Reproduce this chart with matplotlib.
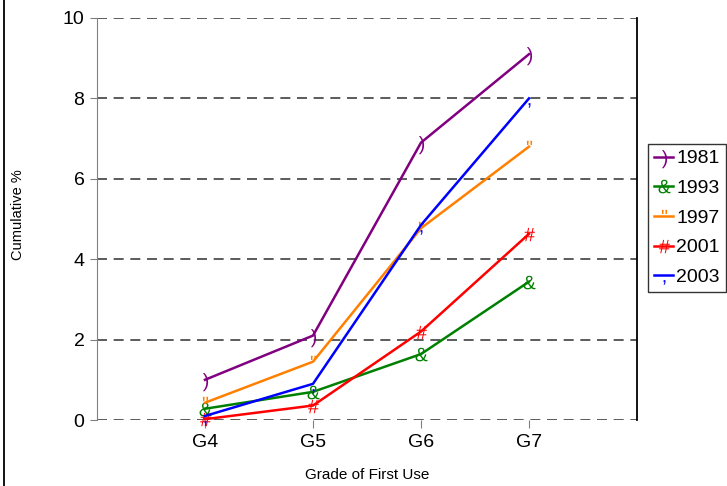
import matplotlib
matplotlib.use("Agg")
import matplotlib.pyplot as plt
from matplotlib.lines import Line2D
from matplotlib.textpath import TextPath
from matplotlib.font_manager import FontProperties
from matplotlib.transforms import Affine2D

plt.rcParams['font.family'] = ['Liberation Sans', 'DejaVu Sans']

grades = ['G4', 'G5', 'G6', 'G7']
years = ['1981', '1993', '1997', '2001', '2003']
v1981 = [1.0, 2.1, 6.9, 9.1]
v1993 = [0.28, 0.70, 1.64, 3.44]
v1997 = [0.43, 1.45, 4.77, 6.8]
v2001 = [0.02, 0.36, 2.2, 4.63]
v2003 = [0.1, 0.9, 4.85, 8.0]
yticks = [0, 2, 4, 6, 8, 10]

series = [v1981, v1993, v1997, v2001, v2003]
colors = ['#800080', '#008000', '#FF8000', '#FF0000', '#0000FF']
glyphs = [')', '&', '"', '#', ',']

GLYPH_PT = 14.0
fp = FontProperties(family='Liberation Sans')
ref_ext = TextPath((0, 0), 'H', size=GLYPH_PT, prop=fp).get_extents()
cap_mid = (ref_ext.y0 + ref_ext.y1) / 2


def glyph_marker(ch):
    tp = TextPath((0, 0), ch, size=GLYPH_PT, prop=fp)
    ext = tp.get_extents()
    cx = (ext.x0 + ext.x1) / 2
    path = tp.transformed(Affine2D().translate(-cx, -cap_mid))
    rescale = abs(path.vertices).max()
    return path, 2 * rescale


fig = plt.figure(figsize=(7.27, 4.86), dpi=100)
ax = fig.add_axes([97/727, 66/486, 540/727, 402/486])

x = list(range(len(grades)))
for vals, c, g, lab in zip(series, colors, glyphs, years):
    mpath, ms = glyph_marker(g)
    ax.plot(x, vals, color=c, lw=1.8, marker=mpath, markersize=ms,
            markeredgewidth=0, label=lab, zorder=3, clip_on=False)

ax.set_xlim(-1, 4)
ax.set_ylim(0, 10)
ax.set_xticks(x)
ax.set_xticklabels(grades, fontsize=14)
ax.set_yticks(yticks)
ax.set_yticklabels([str(t) for t in yticks], fontsize=14)
ax.tick_params(axis='y', direction='out', length=5, color='#808080', pad=4)
ax.tick_params(axis='x', direction='out', length=6, color='#808080', pad=4)

for t in yticks:
    ax.axhline(t, color='#404040', lw=1.2, ls=(0, (6, 4)), zorder=1)

ax.spines['top'].set_visible(False)
ax.spines['bottom'].set_visible(False)
ax.spines['left'].set_color('#808080')
ax.spines['right'].set_color('black')
ax.spines['right'].set_linewidth(1.3)

fig.text(367/727, 1 - 475/486, 'Grade of First Use', fontsize=11,
         ha='center', va='center')
fig.text(18/727, 1 - 215/486, 'Cumulative %', fontsize=10.5, rotation=90,
         ha='center', va='center')

leg = fig.legend(loc='upper left', bbox_to_anchor=(648/727, 1 - 144/486),
                 borderaxespad=0, fontsize=14, frameon=True, fancybox=False,
                 edgecolor='black', handlelength=1.0, handletextpad=0.15,
                 borderpad=0.3, labelspacing=0.62)
leg.get_frame().set_linewidth(1.0)

fig.add_artist(Line2D([4/727, 4/727], [0, 1], color='black', lw=1.3,
                      transform=fig.transFigure))

fig.savefig('out.png', dpi=100)
